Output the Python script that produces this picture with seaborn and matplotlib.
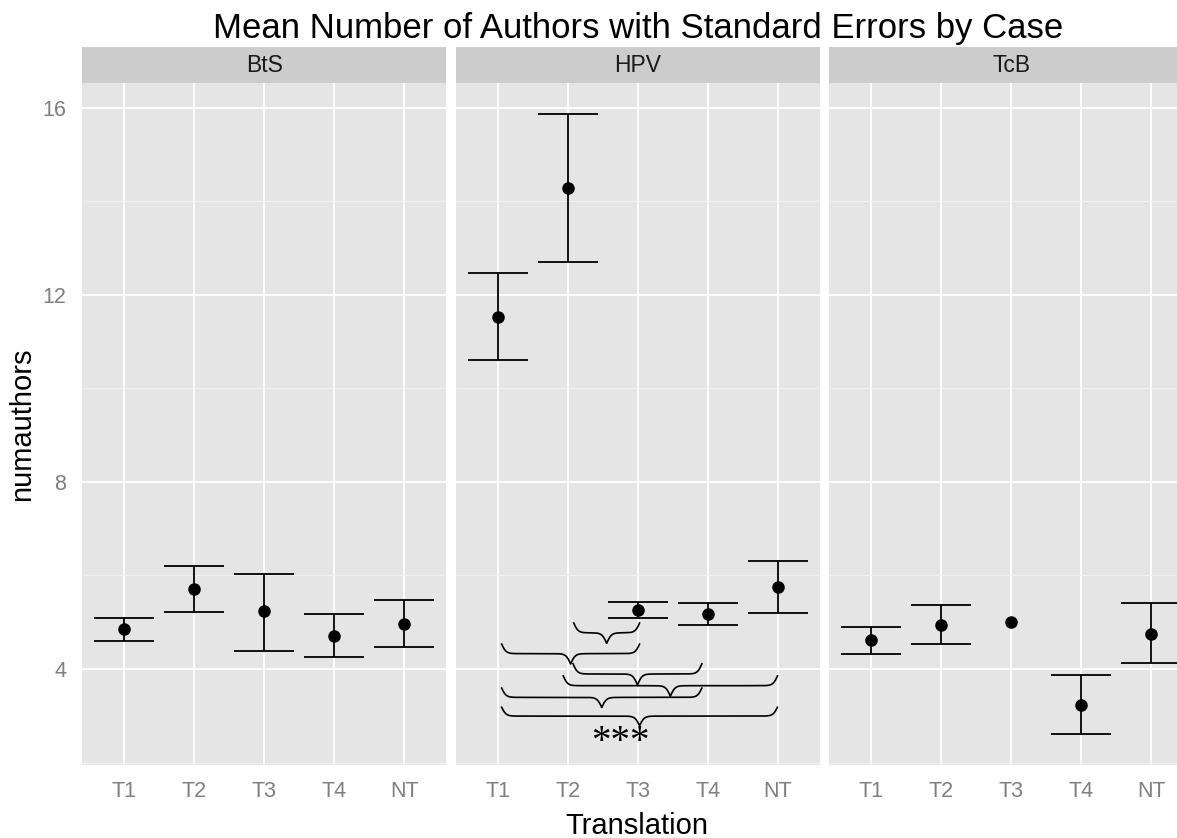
import numpy as np
import pandas as pd
import matplotlib
matplotlib.use("Agg")
import matplotlib.pyplot as plt
import seaborn as sns

# ---------------- data ----------------
cases = ["BtS", "HPV", "TcB"]
translations = ["T1", "T2", "T3", "T4", "NT"]

bts_mean = [4.85, 5.71, 5.24, 4.70, 4.96]
bts_low = [4.60, 5.22, 4.38, 4.26, 4.47]
bts_high = [5.09, 6.20, 6.03, 5.17, 5.47]

hpv_mean = [11.52, 14.28, 5.26, 5.18, 5.75]
hpv_low = [10.60, 12.70, 5.09, 4.94, 5.20]
hpv_high = [12.46, 15.86, 5.43, 5.41, 6.31]

tcb_mean = [4.62, 4.94, 5.00, 3.23, 4.75]
tcb_low = [4.32, 4.53, np.nan, 2.61, 4.13]
tcb_high = [4.90, 5.37, np.nan, 3.87, 5.41]

# significance braces drawn in the HPV panel
brace_from = ["T2", "T1", "T2", "T2", "T1", "T1"]
brace_to = ["T3", "T3", "T4", "NT", "T4", "NT"]
brace_top = [5.00, 4.55, 4.13, 3.87, 3.61, 3.20]
brace_tip = [4.55, 4.11, 3.66, 3.42, 3.18, 2.79]
signif_label = "***"

rows = []
for case, m, lo, hi in zip(cases,
                           [bts_mean, hpv_mean, tcb_mean],
                           [bts_low, hpv_low, tcb_low],
                           [bts_high, hpv_high, tcb_high]):
    for t, a, b, c in zip(translations, m, lo, hi):
        rows.append({"case": case, "Translation": t, "numauthors": a, "low": b, "high": c})
df = pd.DataFrame(rows)

# ---------------- layout ----------------
W, H = 1177, 838
DPI = 100
sns.set_style("white")
plt.rcParams["font.family"] = ["Liberation Sans", "DejaVu Sans"]

fig = plt.figure(figsize=(W / DPI, H / DPI), dpi=DPI)

panel_lefts = [82.3, 455.8, 829.3]
panel_w = 364.0
panel_top = 82.7
panel_bottom = 765.0
strip_top = 47.3

ylim = (1.95, 16.53)
grey_tick = "#7F7F7F"

# brace position adjustments (x shifts so braces do not overlap)
brace_shift_start = [0.08, 0.05, 0.07, -0.07, 0.05, 0.05]
brace_shift_end = [0.03, 0.03, -0.08, 0.0, -0.08, 0.0]


def draw_brace(ax, xa, xb, ytop, ytip, b=30.0):
    half = (xb - xa) / 2.0
    u = np.linspace(0, half, 300)
    f = 1 / (1 + np.exp(-b * u)) + 1 / (1 + np.exp(-b * (u - half)))
    d = (f - f[0]) / (f[-1] - f[0])
    xs = np.concatenate([xa + u, xb - u[::-1]])
    depth = np.concatenate([d, d[::-1]])
    ys = ytop - depth * (ytop - ytip)
    ax.plot(xs, ys, color="black", lw=1.2, solid_capstyle="butt", zorder=4)


for i, case in enumerate(cases):
    l = panel_lefts[i]
    ax = fig.add_axes([l / W, (H - panel_bottom) / H, panel_w / W,
                       (panel_bottom - panel_top) / H])
    ax.set_facecolor("#E5E5E5")
    sub = df[df["case"] == case]

    # error bars
    pos = np.arange(len(translations))
    lo = sub["low"].to_numpy()
    hi = sub["high"].to_numpy()
    ok = ~np.isnan(lo)
    ax.vlines(pos[ok], lo[ok], hi[ok], color="black", lw=1.3, zorder=3)
    ax.hlines(lo[ok], pos[ok] - 0.43, pos[ok] + 0.43, color="black", lw=1.3, zorder=3)
    ax.hlines(hi[ok], pos[ok] - 0.43, pos[ok] + 0.43, color="black", lw=1.3, zorder=3)

    sns.pointplot(data=sub, x="Translation", y="numauthors", order=translations,
                  color="black", linestyle="none", markers="o", markersize=7.0,
                  errorbar=None, ax=ax, zorder=5)

    ax.set_xlim(-0.6, 4.6)
    ax.set_ylim(*ylim)
    ax.set_yticks([4, 8, 12, 16])
    ax.set_yticks([2, 6, 10, 14], minor=True)
    ax.grid(True, which="major", color="white", lw=1.3, zorder=0)
    ax.grid(True, which="minor", axis="y", color="#F2F2F2", lw=0.7, zorder=0)
    ax.set_axisbelow(True)
    for s in ax.spines.values():
        s.set_visible(False)
    ax.set_xlabel("")
    ax.set_ylabel("")
    ax.tick_params(axis="both", which="major", color=grey_tick, labelcolor=grey_tick,
                   length=8, width=1.0, labelsize=15.5, pad=3.5)
    ax.tick_params(axis="y", which="minor", length=0)
    if i == 0:
        ax.set_yticklabels(["4", "8", "12", "16"])
    else:
        ax.tick_params(axis="y", which="major", length=0, labelleft=False)

    if case == "HPV":
        idx = {t: k for k, t in enumerate(translations)}
        for a, bb, yt, yp, s0, s1 in zip(brace_from, brace_to, brace_top, brace_tip,
                                         brace_shift_start, brace_shift_end):
            draw_brace(ax, idx[a] + s0, idx[bb] + s1, yt, yp)
        ax.text(1.75, 2.22, signif_label, ha="center", va="baseline", fontsize=28,
                family=["Liberation Serif", "DejaVu Serif"], color="black", zorder=6)

    # strip
    sax = fig.add_axes([l / W, (H - panel_top) / H, panel_w / W,
                        (panel_top - strip_top) / H])
    sax.set_facecolor("#CCCCCC")
    sax.set_xticks([])
    sax.set_yticks([])
    for s in sax.spines.values():
        s.set_visible(False)
    sax.text(0.5, 0.5, case, ha="center", va="center", fontsize=16.5,
             color="#1A1A1A", transform=sax.transAxes)

fig.text(638 / W, (H - 38) / H, "Mean Number of Authors with Standard Errors by Case",
         ha="center", va="baseline", fontsize=25, color="black")
fig.text(637 / W, (H - 834) / H, "Translation", ha="center", va="baseline",
         fontsize=21, color="black")
fig.text(22 / W, (H - 424) / H, "numauthors", ha="center", va="center",
         rotation=90, fontsize=21, color="black")

fig.savefig("out.png", dpi=DPI)
